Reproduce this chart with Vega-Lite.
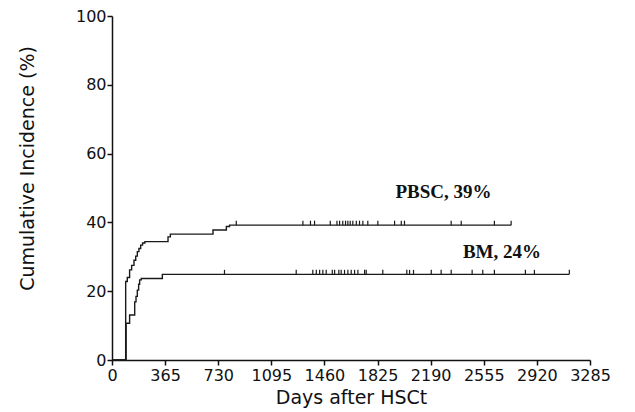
{
  "$schema": "https://vega.github.io/schema/vega-lite/v6.json",
  "width": 478,
  "height": 344,
  "autosize": "none",
  "padding": {"left": 112, "top": 16, "right": 45, "bottom": 52},
  "background": "white",
  "config": {
    "view": {"stroke": null},
    "font": "DejaVu Sans",
    "axis": {
      "grid": false,
      "domainColor": "#111",
      "tickColor": "#111",
      "domainWidth": 1.5,
      "tickWidth": 1.5,
      "tickSize": 5,
      "labelFont": "DejaVu Sans",
      "labelFontSize": 16,
      "labelColor": "#111",
      "titleFont": "DejaVu Sans",
      "titleFontSize": 19,
      "titleFontWeight": "normal",
      "titleColor": "#111"
    }
  },
  "datasets": {
    "curves": [
      {"group": "PBSC", "day": 0, "value": 0},
      {"group": "PBSC", "day": 94, "value": 22.8},
      {"group": "PBSC", "day": 105, "value": 24},
      {"group": "PBSC", "day": 121, "value": 26.2},
      {"group": "PBSC", "day": 135, "value": 27.5},
      {"group": "PBSC", "day": 151, "value": 29},
      {"group": "PBSC", "day": 163, "value": 30.2},
      {"group": "PBSC", "day": 174, "value": 31.5},
      {"group": "PBSC", "day": 185, "value": 32.4},
      {"group": "PBSC", "day": 197, "value": 33.4},
      {"group": "PBSC", "day": 210, "value": 34},
      {"group": "PBSC", "day": 226, "value": 34.4},
      {"group": "PBSC", "day": 385, "value": 35.8},
      {"group": "PBSC", "day": 401, "value": 36.6},
      {"group": "PBSC", "day": 694, "value": 37.8},
      {"group": "PBSC", "day": 786, "value": 38.8},
      {"group": "PBSC", "day": 808, "value": 39.2},
      {"group": "PBSC", "day": 2743, "value": 39.2},
      {"group": "BM", "day": 0, "value": 0},
      {"group": "BM", "day": 97, "value": 10.7},
      {"group": "BM", "day": 121, "value": 13.1},
      {"group": "BM", "day": 156, "value": 16.9},
      {"group": "BM", "day": 165, "value": 18.5},
      {"group": "BM", "day": 174, "value": 20.3},
      {"group": "BM", "day": 183, "value": 22},
      {"group": "BM", "day": 190, "value": 23.3},
      {"group": "BM", "day": 201, "value": 23.7},
      {"group": "BM", "day": 346, "value": 24.9},
      {"group": "BM", "day": 3143, "value": 24.9}
    ],
    "censored": [
      {"group": "PBSC", "day": 854, "value": 39.2},
      {"group": "PBSC", "day": 1312, "value": 39.2},
      {"group": "PBSC", "day": 1364, "value": 39.2},
      {"group": "PBSC", "day": 1392, "value": 39.2},
      {"group": "PBSC", "day": 1500, "value": 39.2},
      {"group": "PBSC", "day": 1546, "value": 39.2},
      {"group": "PBSC", "day": 1564, "value": 39.2},
      {"group": "PBSC", "day": 1586, "value": 39.2},
      {"group": "PBSC", "day": 1605, "value": 39.2},
      {"group": "PBSC", "day": 1621, "value": 39.2},
      {"group": "PBSC", "day": 1637, "value": 39.2},
      {"group": "PBSC", "day": 1655, "value": 39.2},
      {"group": "PBSC", "day": 1679, "value": 39.2},
      {"group": "PBSC", "day": 1701, "value": 39.2},
      {"group": "PBSC", "day": 1724, "value": 39.2},
      {"group": "PBSC", "day": 1758, "value": 39.2},
      {"group": "PBSC", "day": 1827, "value": 39.2},
      {"group": "PBSC", "day": 1942, "value": 39.2},
      {"group": "PBSC", "day": 1988, "value": 39.2},
      {"group": "PBSC", "day": 2010, "value": 39.2},
      {"group": "PBSC", "day": 2331, "value": 39.2},
      {"group": "PBSC", "day": 2400, "value": 39.2},
      {"group": "PBSC", "day": 2628, "value": 39.2},
      {"group": "PBSC", "day": 2743, "value": 39.2},
      {"group": "BM", "day": 773, "value": 24.9},
      {"group": "BM", "day": 1266, "value": 24.9},
      {"group": "BM", "day": 1380, "value": 24.9},
      {"group": "BM", "day": 1404, "value": 24.9},
      {"group": "BM", "day": 1427, "value": 24.9},
      {"group": "BM", "day": 1449, "value": 24.9},
      {"group": "BM", "day": 1472, "value": 24.9},
      {"group": "BM", "day": 1514, "value": 24.9},
      {"group": "BM", "day": 1530, "value": 24.9},
      {"group": "BM", "day": 1559, "value": 24.9},
      {"group": "BM", "day": 1575, "value": 24.9},
      {"group": "BM", "day": 1598, "value": 24.9},
      {"group": "BM", "day": 1621, "value": 24.9},
      {"group": "BM", "day": 1644, "value": 24.9},
      {"group": "BM", "day": 1667, "value": 24.9},
      {"group": "BM", "day": 1690, "value": 24.9},
      {"group": "BM", "day": 1736, "value": 24.9},
      {"group": "BM", "day": 1747, "value": 24.9},
      {"group": "BM", "day": 1861, "value": 24.9},
      {"group": "BM", "day": 2026, "value": 24.9},
      {"group": "BM", "day": 2045, "value": 24.9},
      {"group": "BM", "day": 2072, "value": 24.9},
      {"group": "BM", "day": 2194, "value": 24.9},
      {"group": "BM", "day": 2262, "value": 24.9},
      {"group": "BM", "day": 2331, "value": 24.9},
      {"group": "BM", "day": 2475, "value": 24.9},
      {"group": "BM", "day": 2548, "value": 24.9},
      {"group": "BM", "day": 2628, "value": 24.9},
      {"group": "BM", "day": 2841, "value": 24.9},
      {"group": "BM", "day": 2903, "value": 24.9},
      {"group": "BM", "day": 3143, "value": 24.9}
    ],
    "labels": [
      {"text": "PBSC, 39%", "day": 2278, "value": 48.7},
      {"text": "BM, 24%", "day": 2680, "value": 31.4}
    ]
  },
  "layer": [
    {
      "data": {"name": "curves"},
      "mark": {"type": "line", "interpolate": "step-after", "color": "#1a1a1a", "strokeWidth": 1.4},
      "encoding": {
        "x": {
          "field": "day", "type": "quantitative",
          "scale": {"domain": [0, 3285], "nice": false, "zero": true},
          "axis": {"values": [0, 365, 730, 1095, 1460, 1825, 2190, 2555, 2920, 3285], "format": "d", "title": "Days after HSCt", "labelPadding": 2, "titlePadding": 5, "labelFlush": false, "labelOverlap": false}
        },
        "y": {
          "field": "value", "type": "quantitative",
          "scale": {"domain": [0, 100], "nice": false},
          "axis": {"values": [0, 20, 40, 60, 80, 100], "format": "d", "title": "Cumulative Incidence (%)", "labelPadding": 1, "titlePadding": 38, "titleY": 152}
        },
        "detail": {"field": "group"}
      }
    },
    {
      "data": {"name": "censored"},
      "mark": {"type": "point", "shape": "M0,0L0,-1", "size": 81, "filled": false, "stroke": "#1a1a1a", "strokeWidth": 1.2, "opacity": 1},
      "encoding": {
        "x": {"field": "day", "type": "quantitative"},
        "y": {"field": "value", "type": "quantitative"}
      }
    },
    {
      "data": {"name": "labels"},
      "mark": {"type": "text", "font": "Liberation Serif", "fontWeight": "bold", "fontSize": 19, "color": "#111", "align": "center", "baseline": "middle"},
      "encoding": {
        "x": {"field": "day", "type": "quantitative"},
        "y": {"field": "value", "type": "quantitative"},
        "text": {"field": "text"}
      }
    }
  ]
}
